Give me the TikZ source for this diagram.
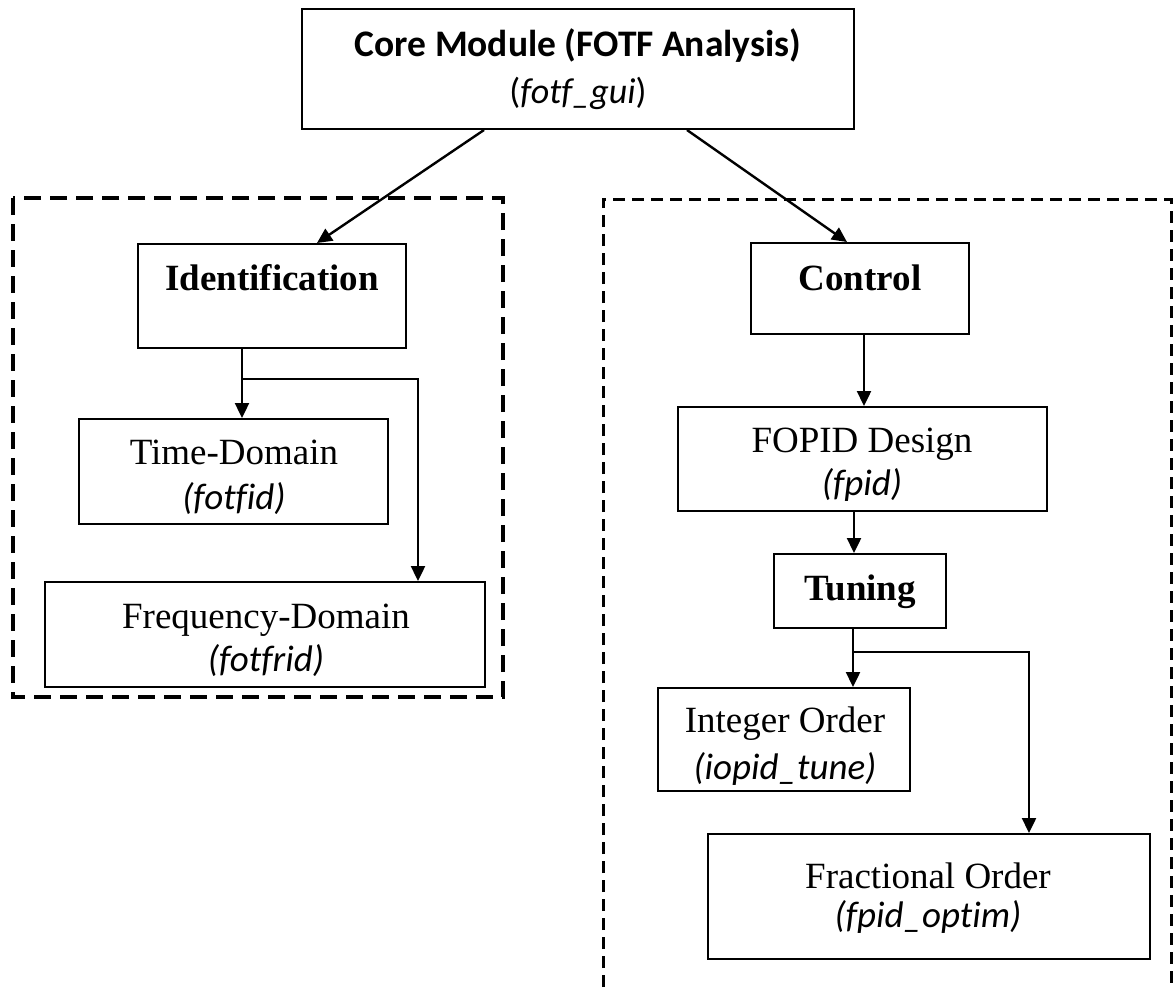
\documentclass[tikz,border=0pt]{standalone}
\usepackage{fontspec}
\setmainfont{Liberation Serif}
\newfontfamily\carlito[Ligatures=NoCommon]{Carlito}
\usetikzlibrary{arrows.meta,calc}
\begin{document}
\begin{tikzpicture}[x=1pt,y=-1pt,
  box/.style={draw=black,line width=2pt,rectangle,inner sep=0pt},
  arr/.style={draw=black,line width=2.4pt,-{Triangle[length=15pt,width=14pt]}},
  groupL/.style={draw=black,line width=4.5pt,dash pattern=on 17pt off 9pt},
  groupR/.style={draw=black,line width=3pt,dash pattern=on 12pt off 7pt},
  serifT/.style={inner sep=0pt,anchor=base,font=\fontsize{37}{40}\selectfont},
  serifB/.style={inner sep=0pt,anchor=base,font=\fontsize{37}{40}\selectfont\bfseries},
  itT/.style={inner sep=0pt,anchor=base,font=\carlito\fontsize{37}{40}\selectfont\itshape},
  coreT/.style={inner sep=0pt,anchor=base,font=\carlito\fontsize{37.5}{40}\selectfont\bfseries},
  coreS/.style={inner sep=0pt,anchor=base,font=\carlito\fontsize{36}{40}\selectfont}
]
\useasboundingbox (0,0) rectangle (1174,987);

% group frames
\draw[groupL] (13,198) rectangle (503,697);
\draw[groupR] (603,987) -- (603,199) -- (1171,199) -- (1171,987);

% boxes
\node[box,minimum width=552pt,minimum height=120pt] (core) at (578,69) {};
\node[box,minimum width=268pt,minimum height=104pt] (ident) at (272,296) {};
\node[box,minimum width=309pt,minimum height=105pt] (time) at (233.5,471.5) {};
\node[box,minimum width=440pt,minimum height=105pt] (freq) at (265,634.5) {};
\node[box,minimum width=218pt,minimum height=91pt] (control) at (860,288.5) {};
\node[box,minimum width=369pt,minimum height=104pt] (fopid) at (862.5,459) {};
\node[box,minimum width=172pt,minimum height=74pt] (tuning) at (860,591) {};
\node[box,minimum width=252pt,minimum height=103pt] (integer) at (784,739.5) {};
\node[box,minimum width=442pt,minimum height=125pt] (fractional) at (929,896.5) {};

% texts
\node[coreT] (coreA) at (578,57) {Core Module (FOTF Analysis)};
\node[coreS] (coreB) at (578,104) {({\itshape fotf\_gui})};
\node[serifB] (identA) at (272,290) {Identification};
\node[serifT] (timeA) at (234,464) {Time-Domain};
\node[itT] (timeB) at (234,509) {(fotfid)};
\node[serifT] (freqA) at (266,628) {Frequency-Domain};
\node[itT] (freqB) at (266,671) {(fotfrid)};
\node[serifB] (controlA) at (860,290) {Control};
\node[serifT] (fopidA) at (862,452) {FOPID Design};
\node[itT] (fopidB) at (862,495) {(fpid)};
\node[serifB] (tuningA) at (860,600) {Tuning};
\node[serifT] (integerA) at (785,732) {Integer Order};
\node[itT] (integerB) at (785,779) {(iopid\_tune)};
\node[serifT] (fractionalA) at (928,888) {Fractional Order};
\node[itT] (fractionalB) at (928,927) {(fpid\_optim)};

% connectors
\draw[arr] ([xshift=-94pt]core.south) -- ([xshift=45pt]ident.north);
\draw[arr] ([xshift=109pt]core.south) -- ([xshift=-13pt]control.north);

\draw[arr] ([xshift=-30pt]ident.south) -- ([xshift=-30pt]ident.south |- time.north);
\coordinate (b1) at (242,379);
\draw[arr] (b1) -| ([xshift=153pt]freq.north);

\draw[arr] ([xshift=4pt]control.south) -- ([xshift=4pt]control.south |- fopid.north);
\draw[arr] ([xshift=-8.5pt]fopid.south) -- ([xshift=-8.5pt]fopid.south |- tuning.north);
\draw[arr] ([xshift=-7pt]tuning.south) -- ([xshift=-7pt]tuning.south |- integer.north);
\coordinate (b2) at (853,652);
\draw[arr] (b2) -| ([xshift=100pt]fractional.north);
\end{tikzpicture}
\end{document}
